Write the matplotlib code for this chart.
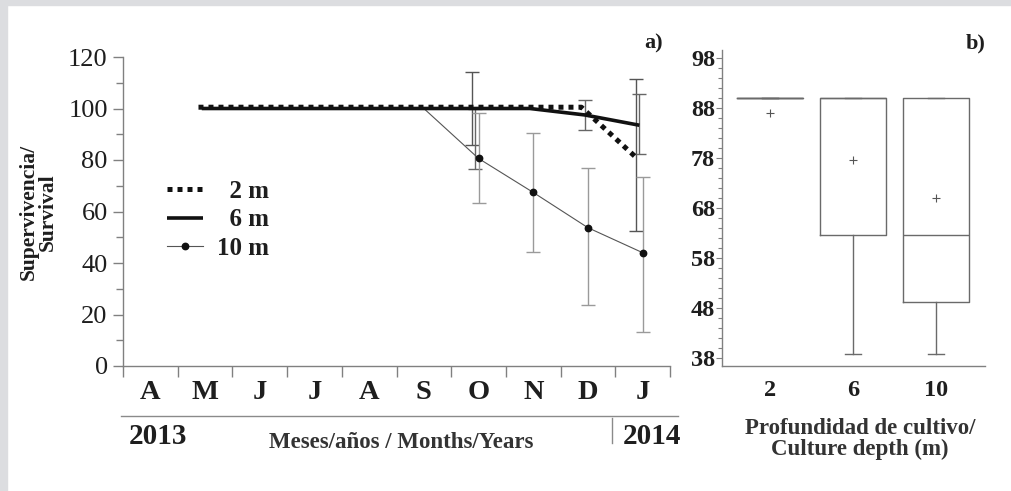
import matplotlib
matplotlib.use('Agg')
import matplotlib.pyplot as plt
from matplotlib.lines import Line2D
from matplotlib.patches import Rectangle
from matplotlib.ticker import MultipleLocator, FixedLocator

plt.rcParams['font.family'] = ['Liberation Serif', 'DejaVu Serif']

# ---------------- data ----------------
months = ['A', 'M', 'J', 'J', 'A', 'S', 'O', 'N', 'D', 'J']
years = ['2013', '2014']
series_labels = ['2 m', '6 m', '10 m']

# month index (0 = April 2013 ... 9 = January 2014)
month_idx = [1, 2, 3, 4, 5, 6, 7, 8, 9]
surv_2m = [100.5, 100.5, 100.5, 100.5, 100.5, 100.5, 100.5, 100.5, 81.0]
surv_6m = [100, 100, 100, 100, 100, 100, 100, 97.5, 93.5]
surv_10m = [100, 100, 100, 100, 100, 80.6, 67.4, 53.7, 44.0]

# error bars: month index, lower limit, upper limit
err_2m_idx = [6, 9]
err_2m_lo = [86.0, 52.4]
err_2m_hi = [114.3, 111.3]
err_6m_idx = [6, 8, 9]
err_6m_lo = [76.5, 91.7, 82.3]
err_6m_hi = [100.0, 103.3, 105.5]
err_10m_idx = [6, 7, 8, 9]
err_10m_lo = [63.3, 44.3, 23.7, 13.3]
err_10m_hi = [98.3, 90.6, 76.9, 73.3]

# panel b: box plot statistics per culture depth
depths = ['2', '6', '10']
box_q1 = [90.0, 62.6, 49.2]
box_med = [90.0, 90.0, 62.6]
box_q3 = [90.0, 90.0, 90.0]
whisk_lo = [90.0, 38.8, 38.8]
whisk_hi = [90.0, 90.0, 90.0]
box_mean = [87.0, 77.7, 70.0]

# ---------------- figure ----------------
W, H = 1011, 491
fig = plt.figure(figsize=(W / 100, H / 100), dpi=100)
fig.patch.set_facecolor('white')

def fx(px):
    return px / W

def fy(py):
    return 1 - py / H

# grey frame strips (top and left)
fig.patches.append(Rectangle((0, fy(5)), 1, 5 / H, transform=fig.transFigure,
                             color='#dcdde0', zorder=0))
fig.patches.append(Rectangle((0, 0), 7 / W, 1, transform=fig.transFigure,
                             color='#dcdde0', zorder=0))

TXT = '#1e1e1e'
SPINE = '#808080'

# ---------------- panel a ----------------
ax = fig.add_axes([fx(123), fy(366), fx(670) - fx(123), fy(57) - fy(366)])
ax.set_xlim(0, 10)
ax.set_ylim(0, 120)
for s in ['top', 'right']:
    ax.spines[s].set_visible(False)
for s in ['left', 'bottom']:
    ax.spines[s].set_color(SPINE)
    ax.spines[s].set_linewidth(1.0)

off = {'2m': -0.12, '6m': -0.06, '10m': 0.0}

def xpos(idx, o):
    return [i + 0.5 + o for i in idx]

ebkw = dict(fmt='none', elinewidth=1.0, capsize=5, capthick=1.0, zorder=2)
for idx, lo, hi, o, c, y in [
        (err_2m_idx, err_2m_lo, err_2m_hi, off['2m'], '#555555',
         [surv_2m[month_idx.index(i)] for i in err_2m_idx]),
        (err_6m_idx, err_6m_lo, err_6m_hi, off['6m'], '#666666',
         [surv_6m[month_idx.index(i)] for i in err_6m_idx]),
        (err_10m_idx, err_10m_lo, err_10m_hi, off['10m'], '#9a9a9a',
         [surv_10m[month_idx.index(i)] for i in err_10m_idx])]:
    yerr = [[yy - l for yy, l in zip(y, lo)], [h - yy for yy, h in zip(y, hi)]]
    ax.errorbar(xpos(idx, o), y, yerr=yerr, ecolor=c, **ebkw)

l10, = ax.plot(xpos(month_idx, off['10m']), surv_10m, color='#555555', lw=0.8,
               marker='o', ms=4.6, mfc='#111111', mec='#111111', zorder=3,
               markevery=[5, 6, 7, 8], label=series_labels[2])
l6, = ax.plot(xpos(month_idx, off['6m']), surv_6m, color='#111111', lw=2.6,
              solid_capstyle='butt', zorder=4, label=series_labels[1])
l2, = ax.plot(xpos(month_idx, off['2m']), surv_2m, color='#111111', lw=3.6,
              ls=(0, (1, 1)), dash_capstyle='butt', zorder=5,
              label=series_labels[0])

ax.yaxis.set_major_locator(MultipleLocator(20))
ax.yaxis.set_minor_locator(MultipleLocator(10))
ax.tick_params(axis='y', which='major', direction='out', length=7, width=1,
               color=SPINE, labelsize=19, labelcolor=TXT, pad=4)
ax.tick_params(axis='y', which='minor', direction='out', length=5, width=1,
               color=SPINE)
ax.xaxis.set_major_locator(FixedLocator(list(range(11))))
ax.xaxis.set_major_formatter(plt.NullFormatter())
ax.xaxis.set_minor_locator(FixedLocator([i + 0.5 for i in range(10)]))
ax.set_xticklabels(months, minor=True)
ax.tick_params(axis='x', which='major', direction='out', length=8, width=1,
               color=SPINE)
ax.tick_params(axis='x', which='minor', length=0, labelsize=20.5, pad=10,
               labelcolor=TXT)
for t in ax.get_xticklabels(minor=True):
    t.set_fontweight('bold')

leg = ax.legend(handles=[l2, l6, l10],
                labels=['  ' + series_labels[0], '  ' + series_labels[1],
                        series_labels[2]],
                loc='upper left', bbox_to_anchor=(0.062, 0.635), frameon=False,
                prop={'weight': 'bold', 'size': 18}, handlelength=1.44,
                handletextpad=0.56, labelspacing=0.22, borderaxespad=0)
for t in leg.get_texts():
    t.set_color(TXT)

fig.text(fx(654), fy(43), 'a)', fontsize=16, fontweight='bold', color=TXT,
         ha='center', va='center')

fig.text(fx(38), fy(212), 'Supervivencia/\nSurvival', rotation=90,
         fontsize=15.5, fontweight='bold', color=TXT, ha='center', va='center',
         multialignment='center', linespacing=0.95)

# separators and year labels below the month axis
fig.add_artist(Line2D([fx(121), fx(678)], [fy(416), fy(416)], color='#8a8a8a',
                      lw=1.0))
fig.add_artist(Line2D([fx(612), fx(612)], [fy(418), fy(443)], color='#8a8a8a',
                      lw=1.0))
fig.text(fx(158), fy(436), years[0], fontsize=21, fontweight='bold', color=TXT,
         ha='center', va='center')
fig.text(fx(652), fy(436), years[1], fontsize=21, fontweight='bold', color=TXT,
         ha='center', va='center')
fig.text(fx(401), fy(442), 'Meses/años / Months/Years', fontsize=16.5,
         fontweight='bold', color='#333333', ha='center', va='center')

# ---------------- panel b ----------------
ax2 = fig.add_axes([fx(722), fy(366), fx(985) - fx(722), fy(50) - fy(366)])
stats = []
for i in range(len(depths)):
    stats.append(dict(label=depths[i], q1=box_q1[i], med=box_med[i],
                      q3=box_q3[i], whislo=whisk_lo[i], whishi=whisk_hi[i],
                      mean=box_mean[i], fliers=[]))
BOXC = '#6a6a6a'
ax2.bxp(stats, positions=[1, 2, 3], widths=0.8, showmeans=True,
        showfliers=False, capwidths=0.2,
        boxprops=dict(color=BOXC, lw=1.0),
        medianprops=dict(color=BOXC, lw=1.0),
        whiskerprops=dict(color=BOXC, lw=1.0),
        capprops=dict(color=BOXC, lw=1.0),
        meanprops=dict(marker='+', markersize=6, markeredgewidth=0.8,
                       markeredgecolor='#555555', markerfacecolor='none'))
ax2.set_xlim(0.42, 3.59)
ax2.set_ylim(36.4, 99.6)
for s in ['top', 'right']:
    ax2.spines[s].set_visible(False)
for s in ['left', 'bottom']:
    ax2.spines[s].set_color(SPINE)
    ax2.spines[s].set_linewidth(1.0)
ax2.yaxis.set_major_locator(FixedLocator([38, 48, 58, 68, 78, 88, 98]))
ax2.yaxis.set_minor_locator(MultipleLocator(2))
ax2.tick_params(axis='y', which='major', direction='out', length=4, width=0.8,
                color=SPINE, labelsize=17.5, labelcolor=TXT, pad=1)
ax2.tick_params(axis='y', which='minor', direction='out', length=3, width=0.8,
                color=SPINE)
ax2.tick_params(axis='x', length=0, labelsize=17.5, labelcolor=TXT, pad=10)
for t in ax2.get_xticklabels() + ax2.get_yticklabels():
    t.set_fontweight('bold')

fig.text(fx(976), fy(43), 'b)', fontsize=16, fontweight='bold', color=TXT,
         ha='center', va='center')
fig.text(fx(860), fy(439), 'Profundidad de cultivo/\nCulture depth (m)',
         fontsize=16.5, fontweight='bold', color='#333333', ha='center',
         va='center', multialignment='center', linespacing=1.0)

fig.savefig('out.png', dpi=100, facecolor='white')
